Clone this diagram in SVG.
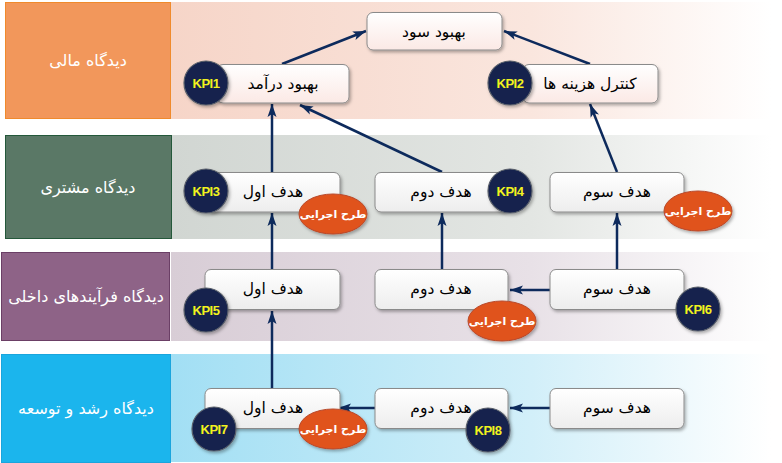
<svg xmlns="http://www.w3.org/2000/svg" width="782" height="463" viewBox="0 0 782 463">
<defs>
<linearGradient id="gOrange" x1="0" y1="0" x2="1" y2="0"><stop offset="0" stop-color="#F6D5C8"/><stop offset="0.6" stop-color="#FAE6DE"/><stop offset="1" stop-color="#FFFFFF"/></linearGradient>
<linearGradient id="gGreen" x1="0" y1="0" x2="1" y2="0"><stop offset="0" stop-color="#D1D6D2"/><stop offset="0.6" stop-color="#E3E6E3"/><stop offset="1" stop-color="#FFFFFF"/></linearGradient>
<linearGradient id="gPurple" x1="0" y1="0" x2="1" y2="0"><stop offset="0" stop-color="#D8CDD6"/><stop offset="0.6" stop-color="#E8E1E7"/><stop offset="1" stop-color="#FFFFFF"/></linearGradient>
<linearGradient id="gBlue" x1="0" y1="0" x2="1" y2="0"><stop offset="0" stop-color="#A2DFF4"/><stop offset="0.6" stop-color="#D2EFF9"/><stop offset="1" stop-color="#FFFFFF"/></linearGradient>
<linearGradient id="gBox" x1="0" y1="0" x2="0" y2="1"><stop offset="0" stop-color="#FFFFFF"/><stop offset="1" stop-color="#EDEDED"/></linearGradient>
<linearGradient id="gBoxTop" x1="0" y1="0" x2="0" y2="1"><stop offset="0" stop-color="#FFFFFF"/><stop offset="1" stop-color="#FBE9E5"/></linearGradient>
<filter id="sh" x="-20%" y="-20%" width="140%" height="160%"><feDropShadow dx="1.5" dy="2" stdDeviation="1.5" flood-color="#000" flood-opacity="0.3"/></filter>
<marker id="arr" markerUnits="userSpaceOnUse" markerWidth="14" markerHeight="10" refX="13" refY="5" orient="auto"><path d="M0,0.5 L13,5 L0,9.5 L3,5 Z" fill="#0D2A5C"/></marker>
</defs>
<style>
.band-label{font-family:"DejaVu Sans",sans-serif;font-size:16px;fill:#FFFFFF;text-anchor:middle}
.box{stroke:#8A8A8A;stroke-width:1;filter:url(#sh)}
.bt{font-family:"DejaVu Sans",sans-serif;font-size:15.5px;fill:#000;text-anchor:middle}
.kpi circle{fill:#12224E;stroke:#5A5F6A;stroke-width:1.2;filter:url(#sh)}
.kpi text{font-family:"Liberation Sans",sans-serif;font-weight:bold;font-size:13px;fill:#F2F21E;text-anchor:middle;letter-spacing:-0.5px}
.plan ellipse{fill:#E0521F;stroke:#B84A2A;stroke-width:1;filter:url(#sh)}
.plan text{font-family:"DejaVu Sans",sans-serif;font-weight:bold;font-size:11px;fill:#FFFFFF;text-anchor:middle}
.conn line{stroke:#0D2A5C;stroke-width:2.5;marker-end:url(#arr)}
</style>
<rect width="782" height="463" fill="#FFFFFF"/>
<g id="bands">
<rect x="171" y="2" width="600" height="117" fill="url(#gOrange)"/>
<rect x="171" y="135" width="600" height="104" fill="url(#gGreen)"/>
<rect x="171" y="252" width="600" height="89" fill="url(#gPurple)"/>
<rect x="171" y="354" width="600" height="108" fill="url(#gBlue)"/>
</g>
<g id="perspective-financial"><rect x="5.5" y="2.5" width="165" height="116" fill="#F2975B" stroke="#F08A2C"/><text class="band-label" x="88" y="66">دیدگاه مالی</text></g>
<g id="perspective-customer"><rect x="5.5" y="135.5" width="166" height="103" fill="#5A7866" stroke="#24583A"/><text class="band-label" x="88" y="193">دیدگاه مشتری</text></g>
<g id="perspective-internal"><rect x="1.5" y="252.5" width="168" height="88" fill="#8E6387" stroke="#6B3F66"/><text class="band-label" x="86" y="302">دیدگاه فرآیندهای داخلی</text></g>
<g id="perspective-growth"><rect x="1.5" y="354.5" width="169" height="108" fill="#1BB5ED" stroke="#1AA5DD"/><text class="band-label" x="86" y="414">دیدگاه رشد و توسعه</text></g>
<g id="connectors" class="conn">
<line x1="282" y1="64" x2="366" y2="31"/>
<line x1="590" y1="64" x2="504" y2="31"/>
<line x1="272" y1="172" x2="272" y2="104"/>
<line x1="442" y1="172" x2="300" y2="105"/>
<line x1="617" y1="172" x2="590" y2="104"/>
<line x1="272" y1="269" x2="272" y2="213"/>
<line x1="442" y1="269" x2="442" y2="213"/>
<line x1="617" y1="269" x2="617" y2="213"/>
<line x1="550" y1="290" x2="510" y2="290"/>
<line x1="272" y1="388" x2="272" y2="311"/>
<line x1="550" y1="408" x2="510" y2="408"/>
<line x1="375" y1="408" x2="338" y2="408"/>
</g>
<g id="n-profit"><rect class="box" x="367" y="12.5" width="135" height="37.5" rx="6" fill="url(#gBoxTop)"/><text class="bt" x="434" y="37">بهبود سود</text></g>
<g id="n-revenue"><rect class="box" x="217" y="64.5" width="132" height="38.5" rx="6" fill="url(#gBoxTop)"/><text class="bt" x="283" y="89">بهبود درآمد</text></g>
<g id="kpi1" class="kpi"><circle cx="206" cy="83" r="22"/><text x="206" y="88">KPI1</text></g>
<g id="n-cost"><rect class="box" x="523" y="64.5" width="135" height="38.5" rx="6" fill="url(#gBoxTop)"/><text class="bt" x="590" y="89">کنترل هزینه ها</text></g>
<g id="kpi2" class="kpi"><circle cx="510" cy="83" r="22"/><text x="510" y="88">KPI2</text></g>
<g id="n-c1"><rect class="box" x="207" y="172.5" width="133" height="39.5" rx="6" fill="url(#gBox)"/><text class="bt" x="273" y="197">هدف اول</text></g>
<g id="kpi3" class="kpi"><circle cx="206" cy="191" r="22"/><text x="206" y="196">KPI3</text></g>
<g id="plan-c1" class="plan"><ellipse cx="333" cy="214" rx="34" ry="20"/><text x="333" y="218">طرح اجرایی</text></g>
<g id="n-c2"><rect class="box" x="375" y="172.5" width="133" height="39.5" rx="6" fill="url(#gBox)"/><text class="bt" x="441" y="197">هدف دوم</text></g>
<g id="kpi4" class="kpi"><circle cx="510" cy="191" r="22"/><text x="510" y="196">KPI4</text></g>
<g id="n-c3"><rect class="box" x="550" y="172.5" width="134" height="39.5" rx="6" fill="url(#gBox)"/><text class="bt" x="617" y="197">هدف سوم</text></g>
<g id="plan-c3" class="plan"><ellipse cx="698" cy="211" rx="34" ry="20"/><text x="698" y="215">طرح اجرایی</text></g>
<g id="n-i1"><rect class="box" x="205" y="269.5" width="135" height="40" rx="6" fill="url(#gBox)"/><text class="bt" x="273" y="294">هدف اول</text></g>
<g id="kpi5" class="kpi"><circle cx="206" cy="310" r="22"/><text x="206" y="315">KPI5</text></g>
<g id="n-i2"><rect class="box" x="375" y="269.5" width="133" height="40" rx="6" fill="url(#gBox)"/><text class="bt" x="441" y="294">هدف دوم</text></g>
<g id="plan-i2" class="plan"><ellipse cx="502" cy="321" rx="34" ry="20"/><text x="502" y="325">طرح اجرایی</text></g>
<g id="n-i3"><rect class="box" x="550" y="269.5" width="134" height="40" rx="6" fill="url(#gBox)"/><text class="bt" x="617" y="294">هدف سوم</text></g>
<g id="kpi6" class="kpi"><circle cx="698" cy="309" r="22"/><text x="698" y="314">KPI6</text></g>
<g id="n-g1"><rect class="box" x="205" y="388.5" width="135" height="40" rx="6" fill="url(#gBox)"/><text class="bt" x="273" y="413">هدف اول</text></g>
<g id="kpi7" class="kpi"><circle cx="214" cy="429" r="22"/><text x="214" y="434">KPI7</text></g>
<g id="plan-g1" class="plan"><ellipse cx="333" cy="429" rx="34" ry="20"/><text x="333" y="433">طرح اجرایی</text></g>
<g id="n-g2"><rect class="box" x="375" y="388.5" width="133" height="40" rx="6" fill="url(#gBox)"/><text class="bt" x="441" y="413">هدف دوم</text></g>
<g id="kpi8" class="kpi"><circle cx="488" cy="430" r="22"/><text x="488" y="435">KPI8</text></g>
<g id="n-g3"><rect class="box" x="550" y="388.5" width="134" height="40" rx="6" fill="url(#gBox)"/><text class="bt" x="617" y="413">هدف سوم</text></g>
</svg>
